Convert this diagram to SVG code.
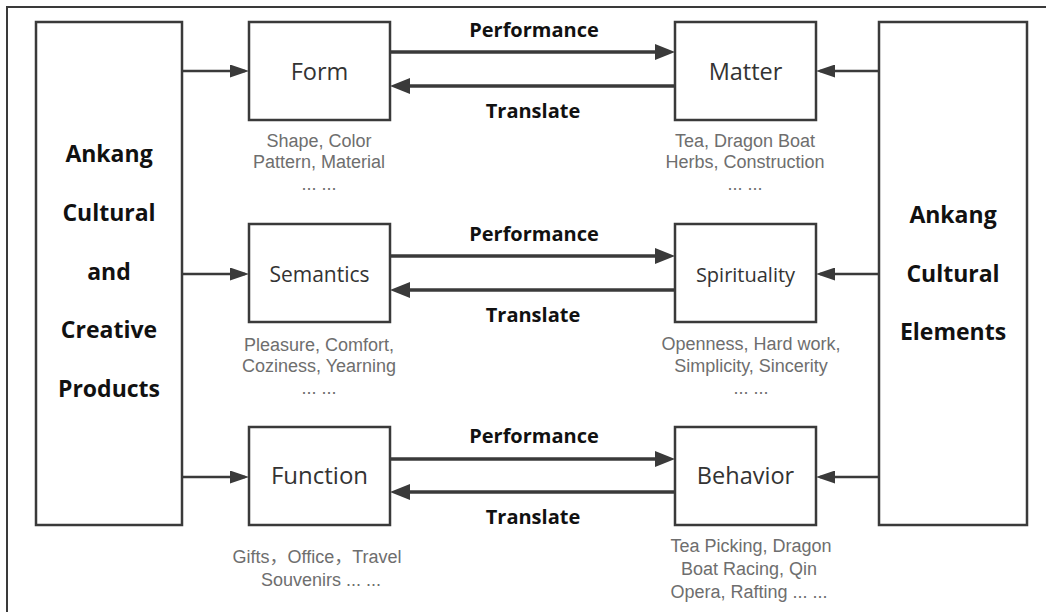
<svg xmlns="http://www.w3.org/2000/svg" width="1046" height="612" viewBox="0 0 1046 612">
<style>
.box{fill:#fff;stroke:#3a3a3a;stroke-width:2.5}
.frame{fill:none;stroke:#3a3a3a;stroke-width:2}
.lbl{font-family:"Open Sans","Liberation Sans",sans-serif;fill:#333;text-anchor:middle}
.big{font-family:"Open Sans","Liberation Sans",sans-serif;font-weight:bold;font-size:23px;fill:#111;text-anchor:middle}
.sub{font-family:"Liberation Sans","Noto Sans CJK SC",sans-serif;font-size:18px;fill:#6e6e6e;text-anchor:middle}
.edge{font-family:"Open Sans","Liberation Sans",sans-serif;font-weight:bold;font-size:20px;fill:#111;text-anchor:middle}
.thick{stroke:#3a3a3a;stroke-width:3.5;fill:none}
.thin{stroke:#3a3a3a;stroke-width:2.5;fill:none}
</style>
<defs>
<marker id="ah" markerUnits="userSpaceOnUse" markerWidth="20" markerHeight="16" refX="15" refY="8" orient="auto">
<path d="M0,0 L20,8 L0,16 z" fill="#3a3a3a"/>
</marker>
<marker id="as" markerUnits="userSpaceOnUse" markerWidth="19" markerHeight="13" refX="15" refY="6.5" orient="auto">
<path d="M0,0 L19,6.5 L0,13 z" fill="#3a3a3a"/>
</marker>
</defs>
<rect width="1046" height="612" fill="#fff"/>
<rect class="frame" x="7" y="7" width="1060" height="630"/>

<g id="products">
<rect class="box" x="36" y="22" width="146" height="503"/>
<text class="big" x="109" y="162">Ankang</text>
<text class="big" x="109" y="221">Cultural</text>
<text class="big" x="109" y="280">and</text>
<text class="big" x="109" y="338">Creative</text>
<text class="big" x="109" y="397">Products</text>
</g>
<g id="elements">
<rect class="box" x="879" y="22" width="148" height="503"/>
<text class="big" x="953" y="223">Ankang</text>
<text class="big" x="953" y="282">Cultural</text>
<text class="big" x="953" y="340">Elements</text>
</g>

<g id="form">
<rect class="box" x="249" y="22" width="141" height="98"/>
<text class="lbl" x="319.5" y="80" font-size="23.5">Form</text>
<text class="sub" x="319" y="147">Shape, Color</text>
<text class="sub" x="319" y="168">Pattern, Material</text>
<text class="sub" x="319" y="190" font-size="12">... ...</text>
</g>
<g id="matter">
<rect class="box" x="675" y="22" width="141" height="98"/>
<text class="lbl" x="745.5" y="80" font-size="23.5">Matter</text>
<text class="sub" x="745" y="147">Tea, Dragon Boat</text>
<text class="sub" x="745" y="168">Herbs, Construction</text>
<text class="sub" x="745" y="190" font-size="12">... ...</text>
</g>
<g id="semantics">
<rect class="box" x="249" y="224" width="141" height="98"/>
<text class="lbl" x="319.5" y="282" font-size="21">Semantics</text>
<text class="sub" x="319" y="351">Pleasure, Comfort,</text>
<text class="sub" x="319" y="372">Coziness, Yearning</text>
<text class="sub" x="319" y="394" font-size="12">... ...</text>
</g>
<g id="spirituality">
<rect class="box" x="675" y="224" width="141" height="98"/>
<text class="lbl" x="745.5" y="282" font-size="20">Spirituality</text>
<text class="sub" x="751" y="350">Openness, Hard work,</text>
<text class="sub" x="751" y="372">Simplicity, Sincerity</text>
<text class="sub" x="751" y="394" font-size="12">... ...</text>
</g>
<g id="function">
<rect class="box" x="249" y="427" width="141" height="98"/>
<text class="lbl" x="319.5" y="484" font-size="24">Function</text>
<text class="sub" x="317" y="563">Gifts，Office，Travel</text>
<text class="sub" x="321" y="586">Souvenirs ... ...</text>
</g>
<g id="behavior">
<rect class="box" x="675" y="427" width="141" height="98"/>
<text class="lbl" x="745.5" y="484" font-size="23.5">Behavior</text>
<text class="sub" x="751" y="552">Tea Picking, Dragon</text>
<text class="sub" x="749" y="575">Boat Racing, Qin</text>
<text class="sub" x="749" y="598">Opera, Rafting ... ...</text>
</g>

<g id="connectors">
<path class="thin" d="M183,71 H245" marker-end="url(#as)"/>
<path class="thin" d="M183,274 H245" marker-end="url(#as)"/>
<path class="thin" d="M183,477 H245" marker-end="url(#as)"/>
<path class="thin" d="M878,71 H820" marker-end="url(#as)"/>
<path class="thin" d="M878,274 H820" marker-end="url(#as)"/>
<path class="thin" d="M878,477 H820" marker-end="url(#as)"/>

<path class="thick" d="M391,52 H670" marker-end="url(#ah)"/>
<path class="thick" d="M674,86 H395" marker-end="url(#ah)"/>
<path class="thick" d="M391,256 H670" marker-end="url(#ah)"/>
<path class="thick" d="M674,290 H395" marker-end="url(#ah)"/>
<path class="thick" d="M391,459 H670" marker-end="url(#ah)"/>
<path class="thick" d="M674,492 H395" marker-end="url(#ah)"/>

<text class="edge" x="534" y="37">Performance</text>
<text class="edge" x="533" y="118">Translate</text>
<text class="edge" x="534" y="241">Performance</text>
<text class="edge" x="533" y="322">Translate</text>
<text class="edge" x="534" y="443">Performance</text>
<text class="edge" x="533" y="524">Translate</text>
</g>
</svg>
